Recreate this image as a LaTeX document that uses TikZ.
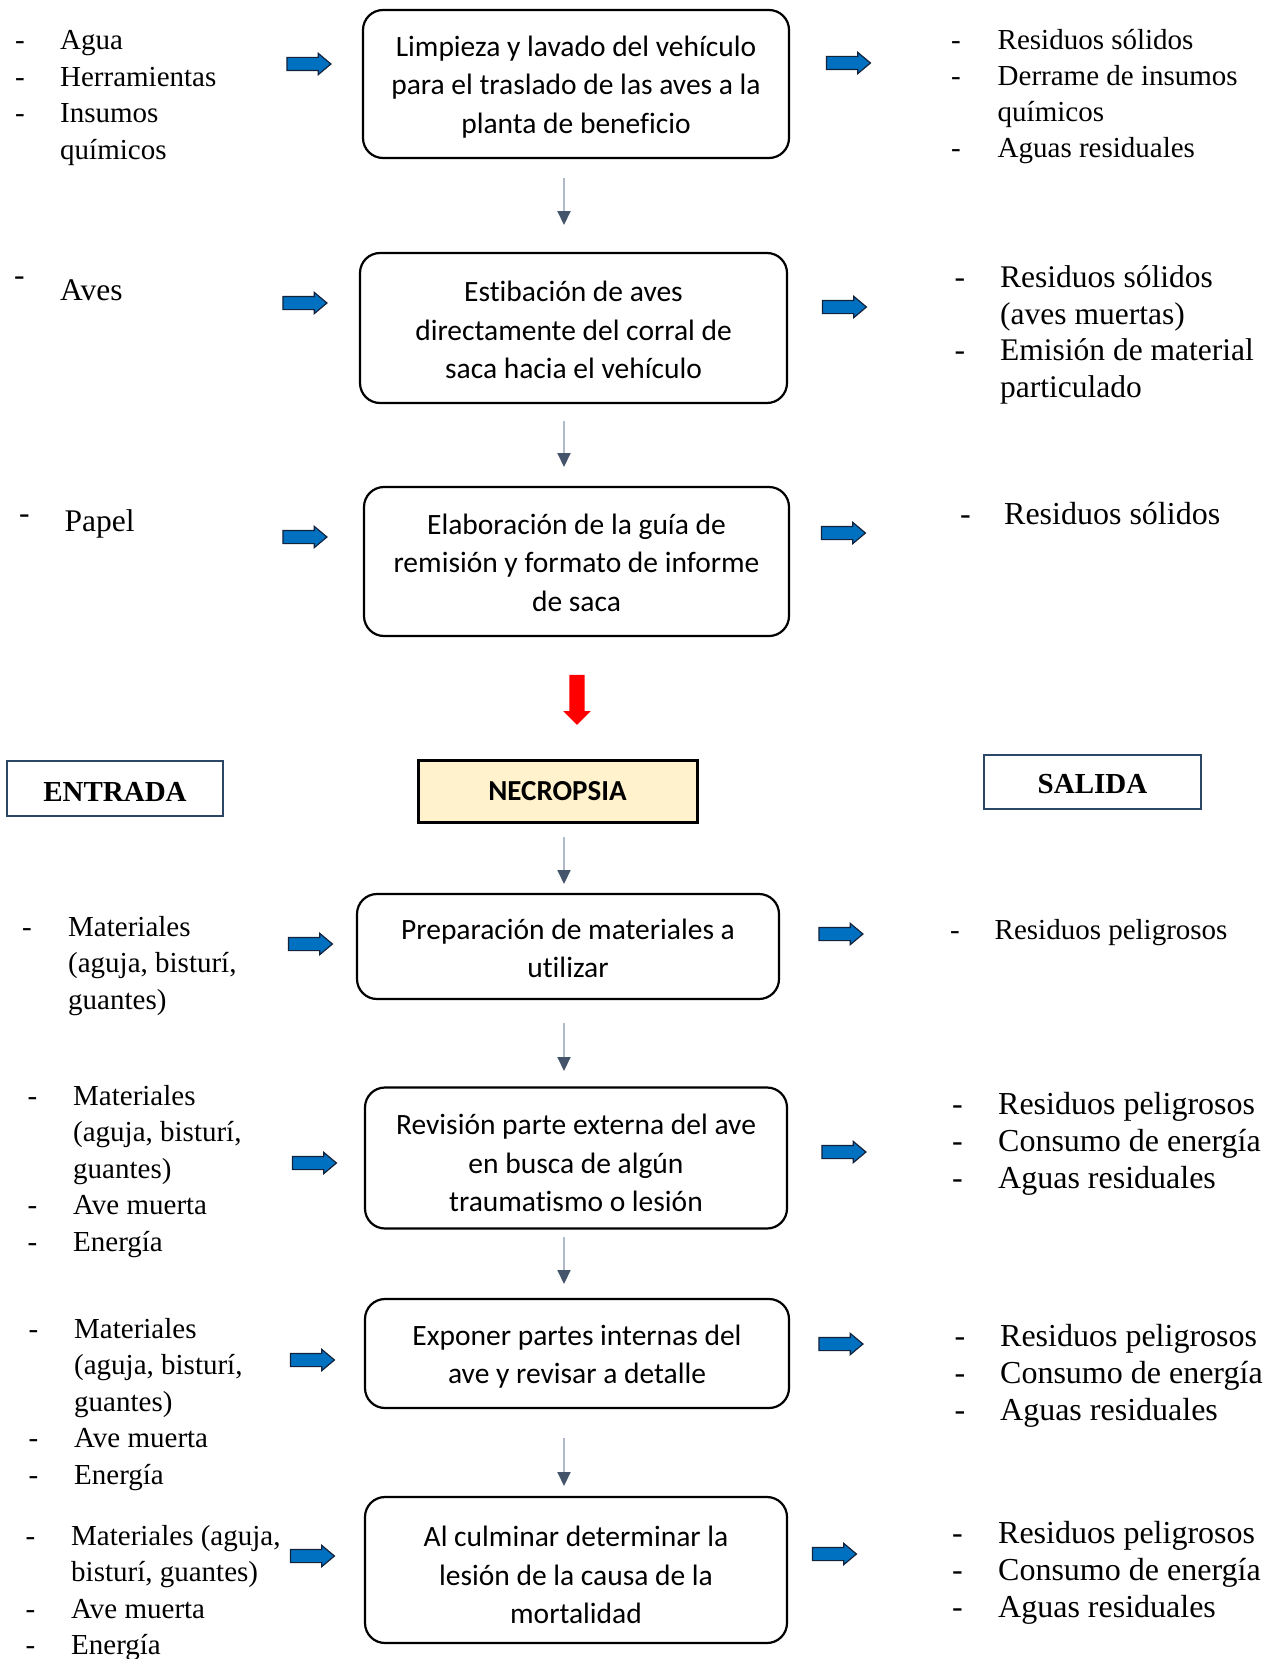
\documentclass[tikz,border=0pt]{standalone}
\usepackage{fontspec}
\setmainfont{Liberation Serif}
\newfontfamily\calfont[Ligatures=NoCommon]{Carlito}
\usetikzlibrary{shapes.arrows,arrows.meta}
\definecolor{arrowblue}{RGB}{0,112,192}
\definecolor{arrowedge}{RGB}{20,35,60}
\definecolor{headslate}{RGB}{68,84,106}
\definecolor{stemgray}{RGB}{175,185,200}
\definecolor{framenavy}{RGB}{44,70,102}
\definecolor{cream}{RGB}{255,242,204}
\newcommand\lsmall{\fontsize{29}{36.5}\selectfont}
\newcommand\lbig{\fontsize{31.5}{36.5}\selectfont}
\newcommand\lbigb{\fontsize{32}{37}\selectfont}
\tikzset{
  x=1pt, y=-1pt,
  stage/.style={draw, line width=2.2pt, rounded corners=20pt, inner sep=0},
  stagetext/.style={align=center, inner sep=0,
    font=\calfont\fontsize{29.5}{38.5}\selectfont},
  lst/.style={anchor=base west, inner sep=0, align=left},
  bluearrow/.style={single arrow, fill=arrowblue, draw=arrowedge, line width=1.2pt,
    minimum height=44pt, inner xsep=0, inner ysep=6pt, xshift=-4pt,
    single arrow head extend=4pt, single arrow tip angle=80},
  flowarrow/.style={draw=stemgray, line width=2pt,
    -{Triangle[width=13pt,length=14pt,color=headslate]}},
  header/.style={draw=framenavy, line width=2.5pt, text depth=0pt,
    font=\bfseries\fontsize{29}{34}\selectfont},
}
\begin{document}
\begin{tikzpicture}
\useasboundingbox (0,0) rectangle (1274,1659);

% ---------- process stages ----------
\node[stage, minimum width=426pt, minimum height=148pt] (b1) at (576,84) {};
\node[stage, minimum width=427pt, minimum height=150pt] (b2) at (573.5,328) {};
\node[stage, minimum width=425pt, minimum height=149pt] (b3) at (576.5,561.5) {};
\node[stage, minimum width=422pt, minimum height=105pt] (b4) at (568,946.5) {};
\node[stage, minimum width=422pt, minimum height=141pt] (b5) at (576,1158) {};
\node[stage, minimum width=424pt, minimum height=109pt] (b6) at (577,1353.5) {};
\node[stage, minimum width=422pt, minimum height=146pt] (b7) at (576,1570) {};

\node[stagetext] (t1) at ([yshift=-3pt]b1.center)
  {Limpieza y lavado del vehículo\\para el traslado de las aves a la\\planta de beneficio};
\node[stagetext] (t2) at ([yshift=-2pt]b2.center)
  {Estibación de aves\\directamente del corral de\\saca hacia el vehículo};
\node[stagetext] (t3) at ([yshift=-1pt]b3.center)
  {Elaboración de la guía de\\remisión y formato de informe\\de saca};
\node[stagetext] (t4) at ([yshift=-2pt]b4.center)
  {Preparación de materiales a\\utilizar};
\node[stagetext] (t5) at ([yshift=-5pt]b5.center)
  {Revisión parte externa del ave\\en busca de algún\\traumatismo o lesión};
\node[stagetext] (t6) at ([yshift=-3pt]b6.center)
  {Exponer partes internas del\\ave y revisar a detalle};
\node[stagetext] (t7) at ([yshift=-5pt]b7.center)
  {Al culminar determinar la\\lesión de la causa de la\\mortalidad};

% ---------- headers ----------
\node[header, text height=25.4pt, minimum width=216pt, minimum height=55pt] (hin) at (115,788.5) {ENTRADA};
\node[draw, line width=3pt, fill=cream, minimum width=279pt, minimum height=62pt,
  font=\calfont\bfseries\fontsize{29}{34}\selectfont] (hnec) at (557.5,791) {NECROPSIA};
\node[header, text height=23.2pt, minimum width=217pt, minimum height=54pt] (hout) at (1092.5,782) {SALIDA};

% ---------- down arrows between stages ----------
\coordinate (g1a) at (564,178);  \coordinate (g1b) at (564,225);
\coordinate (g2a) at (564,421);  \coordinate (g2b) at (564,467);
\coordinate (g3a) at (564,837);  \coordinate (g3b) at (564,884);
\coordinate (g4a) at (564,1023); \coordinate (g4b) at (564,1071);
\coordinate (g5a) at (564,1237); \coordinate (g5b) at (564,1284);
\coordinate (g6a) at (564,1438); \coordinate (g6b) at (564,1486);
\draw[flowarrow] (g1a) -- (g1b);
\draw[flowarrow] (g2a) -- (g2b);
\draw[flowarrow] (g3a) -- (g3b);
\draw[flowarrow] (g4a) -- (g4b);
\draw[flowarrow] (g5a) -- (g5b);
\draw[flowarrow] (g6a) -- (g6b);

% red arrow leading into the necropsy stage
\node[single arrow, fill=red, draw=none, rotate=-90, minimum height=50pt,
  inner xsep=0, inner ysep=7.5pt, single arrow head extend=6pt] (redarr) at (577,696) {};

% ---------- input / output block arrows ----------
\node[bluearrow] (ai1) at (309,64) {};
\node[bluearrow] (ai2) at (305,303) {};
\node[bluearrow] (ai3) at (305,537) {};
\node[bluearrow] (ai4) at (310.5,944) {};
\node[bluearrow] (ai5) at (314.5,1163) {};
\node[bluearrow] (ai6) at (312.5,1360) {};
\node[bluearrow] (ai7) at (312.5,1556) {};
\node[bluearrow] (ao1) at (848.5,63) {};
\node[bluearrow] (ao2) at (844.5,307) {};
\node[bluearrow] (ao3) at (843.5,533) {};
\node[bluearrow] (ao4) at (841,934) {};
\node[bluearrow] (ao5) at (844,1152) {};
\node[bluearrow] (ao6) at (841,1344) {};
\node[bluearrow] (ao7) at (834.5,1554) {};

% ---------- inputs ----------
\node[lst, font=\lsmall] (in1) at (15,50)
  {\begin{tabular}[t]{@{}p{45pt}@{}l@{}}-&Agua\\-&Herramientas\\-&Insumos\\&químicos\end{tabular}};
\node[lst, font=\lbig] (in2d) at (14,285) {-};
\node[lst, font=\lbig] (in2) at (60,300) {Aves};
\node[lst, font=\lbig] (in3d) at (19,523) {-};
\node[lst, font=\lbig] (in3) at (64.5,531) {Papel};
\node[lst, font=\lsmall] (in4) at (22,936)
  {\begin{tabular}[t]{@{}p{46pt}@{}l@{}}-&Materiales\\&(aguja, bisturí,\\&guantes)\end{tabular}};
\node[lst, font=\lsmall] (in5) at (27.5,1105)
  {\begin{tabular}[t]{@{}p{45.5pt}@{}l@{}}-&Materiales\\&(aguja, bisturí,\\&guantes)\\-&Ave muerta\\-&Energía\end{tabular}};
\node[lst, font=\lsmall] (in6) at (28.5,1338)
  {\begin{tabular}[t]{@{}p{45.5pt}@{}l@{}}-&Materiales\\&(aguja, bisturí,\\&guantes)\\-&Ave muerta\\-&Energía\end{tabular}};
\node[lst, font=\lsmall] (in7) at (25.5,1545)
  {\begin{tabular}[t]{@{}p{45.5pt}@{}l@{}}-&Materiales (aguja,\\&bisturí, guantes)\\-&Ave muerta\\-&Energía\end{tabular}};

% ---------- outputs ----------
\node[lst, font=\fontsize{29}{36}\selectfont] (out1) at (951,50)
  {\begin{tabular}[t]{@{}p{46.5pt}@{}l@{}}-&Residuos sólidos\\-&Derrame de insumos\\&químicos\\-&Aguas residuales\end{tabular}};
\node[lst, font=\lbig] (out2) at (954.5,287.5)
  {\begin{tabular}[t]{@{}p{45.5pt}@{}l@{}}-&Residuos sólidos\\&(aves muertas)\\-&Emisión de material\\&particulado\end{tabular}};
\node[lst, font=\lbigb] (out3) at (960,524.5)
  {\begin{tabular}[t]{@{}p{44pt}@{}l@{}}-&Residuos sólidos\end{tabular}};
\node[lst, font=\lsmall] (out4) at (950,939)
  {\begin{tabular}[t]{@{}p{44.5pt}@{}l@{}}-&Residuos peligrosos\end{tabular}};
\node[lst, font=\lbigb] (out5) at (952,1114)
  {\begin{tabular}[t]{@{}p{46pt}@{}l@{}}-&Residuos peligrosos\\-&Consumo de energía\\-&Aguas residuales\end{tabular}};
\node[lst, font=\lbigb] (out6) at (954.5,1346)
  {\begin{tabular}[t]{@{}p{45.5pt}@{}l@{}}-&Residuos peligrosos\\-&Consumo de energía\\-&Aguas residuales\end{tabular}};
\node[lst, font=\lbigb] (out7) at (952,1543)
  {\begin{tabular}[t]{@{}p{46pt}@{}l@{}}-&Residuos peligrosos\\-&Consumo de energía\\-&Aguas residuales\end{tabular}};
\end{tikzpicture}
\end{document}
